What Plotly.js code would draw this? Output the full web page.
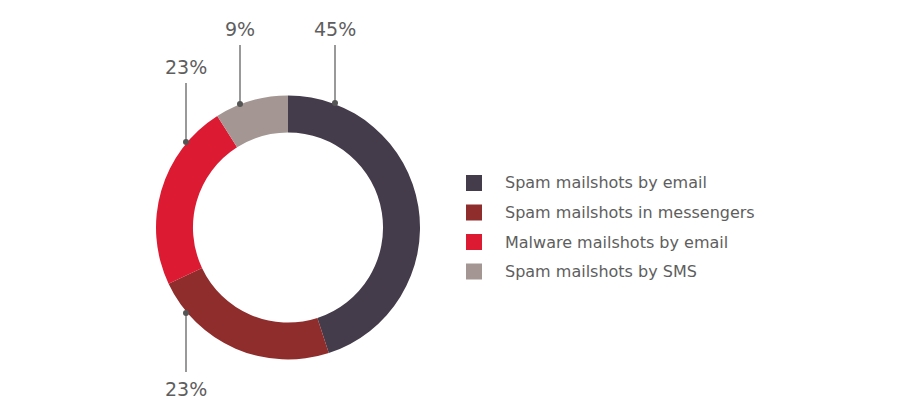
<!DOCTYPE html>
<html>
<head>
<meta charset="utf-8">
<script src="https://cdn.plot.ly/plotly-3.0.1.min.js"></script>
<style>html,body{margin:0;padding:0;background:#fff;}#chart{width:900px;height:414px;}</style>
</head>
<body>
<div id="chart"></div>
<script>
// ---- data ----
const categories = ["Spam mailshots by email", "Spam mailshots in messengers", "Malware mailshots by email", "Spam mailshots by SMS"];
const shares = [45, 23, 23, 9];
const colors = ["#443b4b", "#8f2c2c", "#dc1a32", "#a39693"];

// ---- layout helpers (pixel -> paper) ----
const W = 900, H = 414;
const px = x => x / W;
const py = y => 1 - y / H;

// label callouts: dot position on ring, line end, text position (pixels)
const callouts = [
  {dot: [335, 103], end: [335, 45], text: [335, 29]},   // 45%
  {dot: [186, 313], end: [186, 372], text: [186, 389]}, // 23% messengers
  {dot: [186, 142], end: [186, 83], text: [186, 67]},   // 23% malware
  {dot: [240, 104], end: [240, 45], text: [240, 29]}    // 9%
];

const shapes = [];
const annotations = [];
const textColor = "#5e5e5e";
const fontFam = "DejaVu Sans, sans-serif";

shares.forEach((v, i) => {
  const c = callouts[i];
  shapes.push({type: "line", xref: "paper", yref: "paper",
    x0: px(c.dot[0]), y0: py(c.dot[1]), x1: px(c.end[0]), y1: py(c.end[1]),
    line: {color: "#777777", width: 1.5}});
  shapes.push({type: "circle", xref: "paper", yref: "paper",
    x0: px(c.dot[0] - 3), x1: px(c.dot[0] + 3), y0: py(c.dot[1] - 3), y1: py(c.dot[1] + 3),
    fillcolor: "#555555", line: {width: 0}});
  annotations.push({xref: "paper", yref: "paper", x: px(c.text[0]), y: py(c.text[1]),
    text: v + "%", showarrow: false, xanchor: "center", yanchor: "middle",
    font: {family: fontFam, size: 19, color: textColor}});
});

// custom legend
const legX = 474, legTextX = 503, legY0 = 183, legStep = 29.5, sq = 16;
categories.forEach((name, i) => {
  const y = legY0 + i * legStep;
  shapes.push({type: "rect", xref: "paper", yref: "paper",
    x0: px(legX - sq / 2), x1: px(legX + sq / 2), y0: py(y - sq / 2), y1: py(y + sq / 2),
    fillcolor: colors[i], line: {width: 0}});
  annotations.push({xref: "paper", yref: "paper", x: px(legTextX), y: py(y),
    text: name, showarrow: false, xanchor: "left", yanchor: "middle",
    font: {family: fontFam, size: 16, color: textColor}});
});

const trace = {
  type: "pie",
  labels: categories,
  values: shares,
  hole: 0.72,
  sort: false,
  direction: "clockwise",
  rotation: 0,
  textinfo: "none",
  hoverinfo: "none",
  marker: {colors: colors, line: {width: 0}},
  domain: {x: [px(156), px(420)], y: [py(359.5), py(95.5)]},
  showlegend: false
};

const layout = {
  width: W, height: H,
  margin: {l: 0, r: 0, t: 0, b: 0},
  paper_bgcolor: "#ffffff",
  plot_bgcolor: "#ffffff",
  showlegend: false,
  shapes: shapes,
  annotations: annotations
};

Plotly.newPlot("chart", [trace], layout, {displayModeBar: false, staticPlot: true});
</script>
</body>
</html>
